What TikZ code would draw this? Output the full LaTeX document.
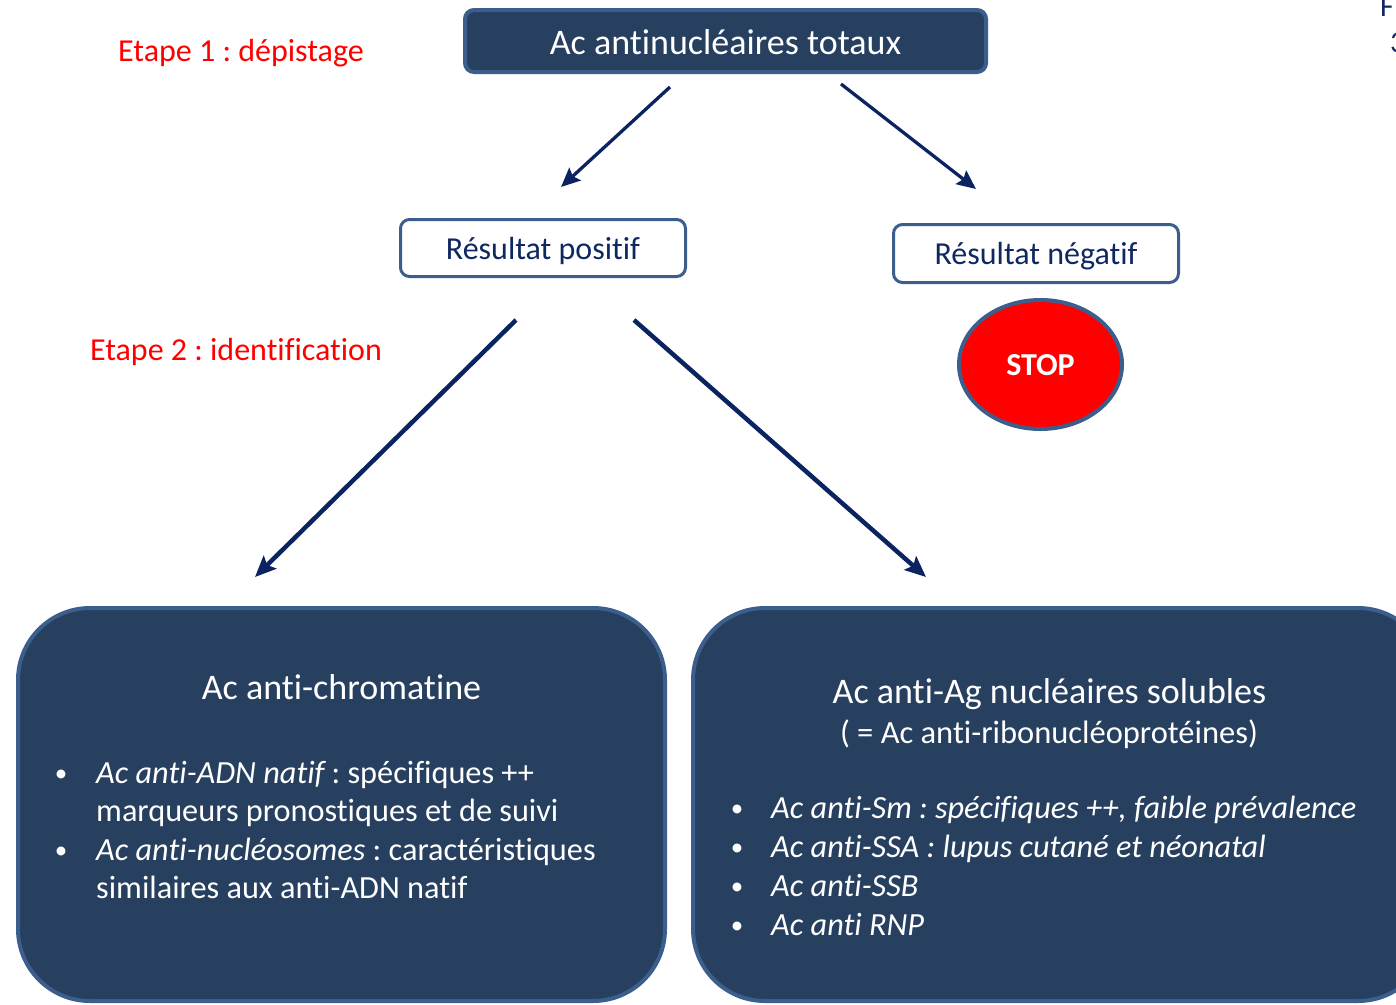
\documentclass[tikz,border=0pt]{standalone}
\usepackage{fontspec}
\setmainfont{Carlito}[Ligatures=NoCommon]
\usetikzlibrary{arrows.meta}
\definecolor{boxnavy}{HTML}{274060}
\definecolor{boxedge}{HTML}{3B5E8D}
\definecolor{arrownavy}{HTML}{0B2461}
\definecolor{textnavy}{HTML}{0E2860}
\frenchspacing
\begin{document}
\begin{tikzpicture}[x=1pt,y=-1pt,
  darkbox/.style={draw=boxedge,fill=boxnavy,line width=4pt,rounded corners=9pt},
  lightbox/.style={draw=boxedge,fill=white,line width=3pt,rounded corners=9pt},
  bigbox/.style={draw=boxedge,fill=boxnavy,line width=4pt,rounded corners=72pt},
  flowarrow/.style={draw=arrownavy,line width=3.3pt,-{Stealth[length=19pt,width=17pt,inset=3pt]}},
  bigarrow/.style={draw=arrownavy,line width=4.5pt,-{Stealth[length=21pt,width=18pt,inset=4pt]}},
  steplabel/.style={text=red,font=\fontsize{32}{38}\selectfont},
  whitetext/.style={text=white,font=\fontsize{32}{38}\selectfont},
  bullettext/.style={text=white,anchor=base west,inner sep=0pt,font=\fontsize{32.3}{38}\selectfont},
  bulletdot/.style={text=white,anchor=base,inner sep=0pt,font=\fontsize{25}{30}\selectfont}]
\useasboundingbox (0,0) rectangle (1396,1004);

% page fragments at the top right corner
\node[text=textnavy,anchor=base west,inner sep=0pt,font=\fontsize{30}{36}\selectfont] (pgF) at (1380,16) {F};
\node[text=textnavy,anchor=base west,inner sep=0pt,font=\fontsize{30}{36}\selectfont] (pg3) at (1390,52) {3};

% step 1: screening
\draw[darkbox] (465,10) rectangle (986,72);
\node[whitetext,font=\fontsize{36}{42}\selectfont] (total) at (725.5,42) {Ac antinucléaires totaux};
\node[steplabel] (step1) at (241,53) {Etape 1 : dépistage};

\draw[lightbox] (400.5,219.5) rectangle (685.5,276.5);
\node[text=textnavy,font=\fontsize{32}{38}\selectfont] (pos) at (543,251) {Résultat positif};
\draw[lightbox] (893.5,224.5) rectangle (1178.5,282.5);
\node[text=textnavy,font=\fontsize{32}{38}\selectfont] (neg) at (1036,256) {Résultat négatif};

\draw[draw=boxedge,fill=red,line width=4pt] (1040.5,364.5) ellipse [x radius=81.5,y radius=64.5];
\node[text=white,font=\bfseries\fontsize{32}{38}\selectfont] (stop) at (1040.5,365) {STOP};

\coordinate (t1) at (670,87);
\coordinate (h1) at (561,187);
\coordinate (t2) at (841,84);
\coordinate (h2) at (976,189);
\draw[flowarrow] (t1) -- (h1);
\draw[flowarrow] (t2) -- (h2);

% step 2: identification
\node[steplabel] (step2) at (236,352) {Etape 2 : identification};
\coordinate (t3) at (516,320);
\coordinate (h3) at (255,577);
\coordinate (t4) at (634,320);
\coordinate (h4) at (926,577);
\draw[bigarrow] (t3) -- (h3);
\draw[bigarrow] (t4) -- (h4);

% chromatin antibodies
\draw[bigbox] (18,608) rectangle (665,1001);
\node[whitetext,anchor=base,inner sep=0pt,font=\fontsize{36}{42}\selectfont] (chrom) at (341.5,699) {Ac anti-chromatine};
\node[bulletdot] (b1) at (61,781) {•};
\node[bullettext] (l1) at (96,783) {\textit{Ac anti-ADN natif}\,: spécifiques ++};
\node[bullettext] (l2) at (96,821.5) {marqueurs pronostiques et de suivi};
\node[bulletdot] (b2) at (61,858) {•};
\node[bullettext] (l3) at (96,860) {\textit{Ac anti-nucléosomes} : caractéristiques};
\node[bullettext] (l4) at (96,898.5) {similaires aux anti-ADN natif};

% soluble nuclear antigen antibodies
\draw[bigbox] (693,608) rectangle (1430,1001);
\node[whitetext,anchor=base,inner sep=0pt,font=\fontsize{36}{42}\selectfont] (ena) at (1049.5,703) {Ac anti-Ag nucléaires solubles};
\node[whitetext,anchor=base,inner sep=0pt,font=\fontsize{32.5}{38}\selectfont] (rnp) at (1049,743) {( = Ac anti-ribonucléoprotéines)};
\node[bulletdot] (c1) at (737,816) {•};
\node[bullettext] (m1) at (771,818) {\textit{Ac anti-Sm : spécifiques ++, faible prévalence}};
\node[bulletdot] (c2) at (737,855) {•};
\node[bullettext] (m2) at (771,857) {\textit{Ac anti-SSA : lupus cutané et néonatal}};
\node[bulletdot] (c3) at (737,894) {•};
\node[bullettext] (m3) at (771,896) {\textit{Ac anti-SSB}};
\node[bulletdot] (c4) at (737,933) {•};
\node[bullettext] (m4) at (771,935) {\textit{Ac anti RNP}};
\end{tikzpicture}
\end{document}
